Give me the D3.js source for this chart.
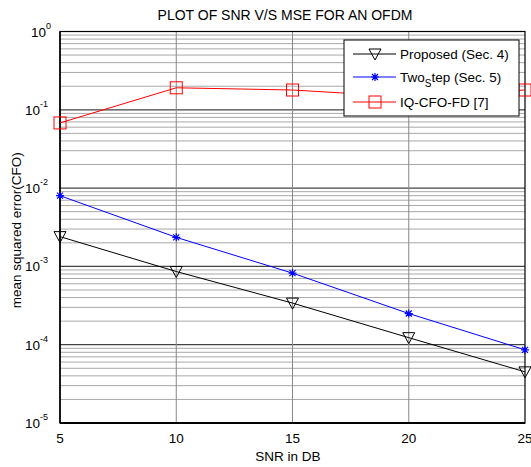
<!DOCTYPE html>
<html>
<head>
<meta charset="utf-8">
<script src="https://cdn.jsdelivr.net/npm/d3@7"></script>
<style>
  body { margin: 0; background: #fff; }
  text { font-family: "Liberation Sans", Arial, sans-serif; fill: #000; }
</style>
</head>
<body>
<svg id="chart" width="531" height="467"></svg>
<script>
// data
const snr = [5, 10, 15, 20, 25];
const proposed = [2.4e-3, 8.6e-4, 3.4e-4, 1.23e-4, 4.5e-5];
const twoStep = [8.0e-3, 2.35e-3, 8.2e-4, 2.5e-4, 8.6e-5];
const iqCfo = [0.068, 0.191, 0.179, 0.146, 0.179];
const xTicks = [5, 10, 15, 20, 25];
const yExponents = [0, -1, -2, -3, -4, -5];

const svg = d3.select("#chart");
const plotLeft = 60, plotRight = 525, plotTop = 31.5, plotBottom = 423;
const fs = 13.5;

const x = d3.scaleLinear().domain([5, 25]).range([plotLeft, plotRight]);
const y = d3.scaleLog().domain([1e-5, 1]).range([plotBottom, plotTop]);

// grid: minor log lines
const minor = [];
for (let e = -5; e < 0; e++) {
  for (let m = 2; m <= 9; m++) minor.push(m * Math.pow(10, e));
}
const grid = svg.append("g");
grid.selectAll("line.minor").data(minor).join("line")
  .attr("class", "minor")
  .attr("x1", plotLeft).attr("x2", plotRight)
  .attr("y1", d => y(d)).attr("y2", d => y(d))
  .attr("stroke", "#a8a8a8").attr("stroke-width", 1);

grid.selectAll("line.major").data(yExponents.slice(1, -1)).join("line")
  .attr("class", "major")
  .attr("x1", plotLeft).attr("x2", plotRight)
  .attr("y1", d => y(Math.pow(10, d))).attr("y2", d => y(Math.pow(10, d)))
  .attr("stroke", "#444").attr("stroke-width", 1.2);

grid.selectAll("line.vx").data(xTicks.slice(1, -1)).join("line")
  .attr("class", "vx")
  .attr("x1", d => x(d)).attr("x2", d => x(d))
  .attr("y1", plotTop).attr("y2", plotBottom)
  .attr("stroke", "#888").attr("stroke-width", 1);

// frame
svg.append("rect")
  .attr("x", plotLeft).attr("y", plotTop)
  .attr("width", plotRight - plotLeft).attr("height", plotBottom - plotTop)
  .attr("fill", "none").attr("stroke", "#000").attr("stroke-width", 1.2);
svg.append("line")
  .attr("x1", plotLeft).attr("x2", plotRight).attr("y1", plotBottom).attr("y2", plotBottom)
  .attr("stroke", "#000").attr("stroke-width", 2);
svg.append("line")
  .attr("x1", plotLeft).attr("x2", plotLeft).attr("y1", plotTop).attr("y2", plotBottom)
  .attr("stroke", "#000").attr("stroke-width", 1.5);

// x tick labels
svg.append("g").selectAll("text").data(xTicks).join("text")
  .attr("x", d => x(d)).attr("y", plotBottom + 20)
  .attr("text-anchor", "middle").attr("font-size", fs)
  .text(d => d);

// y tick labels: 10 with superscript
const yl = svg.append("g").selectAll("text").data(yExponents).join("text")
  .attr("x", d => d === 0 ? plotLeft - 9 : plotLeft - 12)
  .attr("y", d => y(Math.pow(10, d)) + 5)
  .attr("text-anchor", "end").attr("font-size", fs);
yl.append("tspan").text("10");
yl.append("tspan").attr("dy", -8).attr("font-size", 9).text(d => d);

// series
const line = d3.line().x(d => x(d[0])).y(d => y(d[1]));
const series = [
  { name: "Proposed (Sec. 4)", values: proposed, color: "#000", marker: "tri" },
  { name: "Two", sub: "S", rest: "tep (Sec. 5)", values: twoStep, color: "#0000ff", marker: "star" },
  { name: "IQ-CFO-FD [7]", values: iqCfo, color: "#ff0000", marker: "square" }
];

function drawMarker(g, type, color) {
  if (type === "tri") {
    g.append("path").attr("d", "M-6,-5L6,-5L0,6Z")
      .attr("fill", "none").attr("stroke", color).attr("stroke-width", 1);
  } else if (type === "square") {
    g.append("rect").attr("x", -6).attr("y", -6).attr("width", 12).attr("height", 12)
      .attr("fill", "none").attr("stroke", color).attr("stroke-width", 1);
  } else {
    g.append("path").attr("d", "M-4,0L4,0M0,-4L0,4M-3,-3L3,3M-3,3L3,-3")
      .attr("stroke", color).attr("stroke-width", 1.2);
  }
}

series.forEach(s => {
  const pts = snr.map((v, i) => [v, s.values[i]]);
  svg.append("path").datum(pts)
    .attr("d", line).attr("fill", "none")
    .attr("stroke", s.color).attr("stroke-width", 1);
  svg.append("g").selectAll("g").data(pts).join("g")
    .attr("transform", d => `translate(${x(d[0])},${y(d[1])})`)
    .each(function () { drawMarker(d3.select(this), s.marker, s.color); });
});

// legend
const lg = svg.append("g").attr("transform", "translate(344,40)");
lg.append("rect").attr("width", 175).attr("height", 76)
  .attr("fill", "#fff").attr("stroke", "#000").attr("stroke-width", 1);
const rowY = [14, 37, 62];
series.forEach((s, i) => {
  const r = lg.append("g").attr("transform", `translate(0,${rowY[i]})`);
  r.append("line").attr("x1", 9).attr("x2", 52)
    .attr("stroke", s.color).attr("stroke-width", 1);
  drawMarker(r.append("g").attr("transform", "translate(31,0)"), s.marker, s.color);
  const t = r.append("text").attr("x", 56).attr("y", 5).attr("font-size", fs);
  t.append("tspan").text(s.name);
  if (s.sub) {
    t.append("tspan").attr("dy", 5).attr("font-size", 10).text(s.sub);
    t.append("tspan").attr("dy", -5).text(s.rest);
  }
});

// title and axis labels
svg.append("text").attr("x", 285).attr("y", 20)
  .attr("text-anchor", "middle").attr("font-size", 14)
  .text("PLOT OF SNR V/S MSE FOR AN OFDM");
svg.append("text").attr("x", 288).attr("y", 461)
  .attr("text-anchor", "middle").attr("font-size", fs)
  .text("SNR in DB");
svg.append("text")
  .attr("transform", `translate(21,${(plotTop + plotBottom) / 2 + 3}) rotate(-90)`)
  .attr("text-anchor", "middle").attr("font-size", fs)
  .text("mean squared error(CFO)");
</script>
</body>
</html>
